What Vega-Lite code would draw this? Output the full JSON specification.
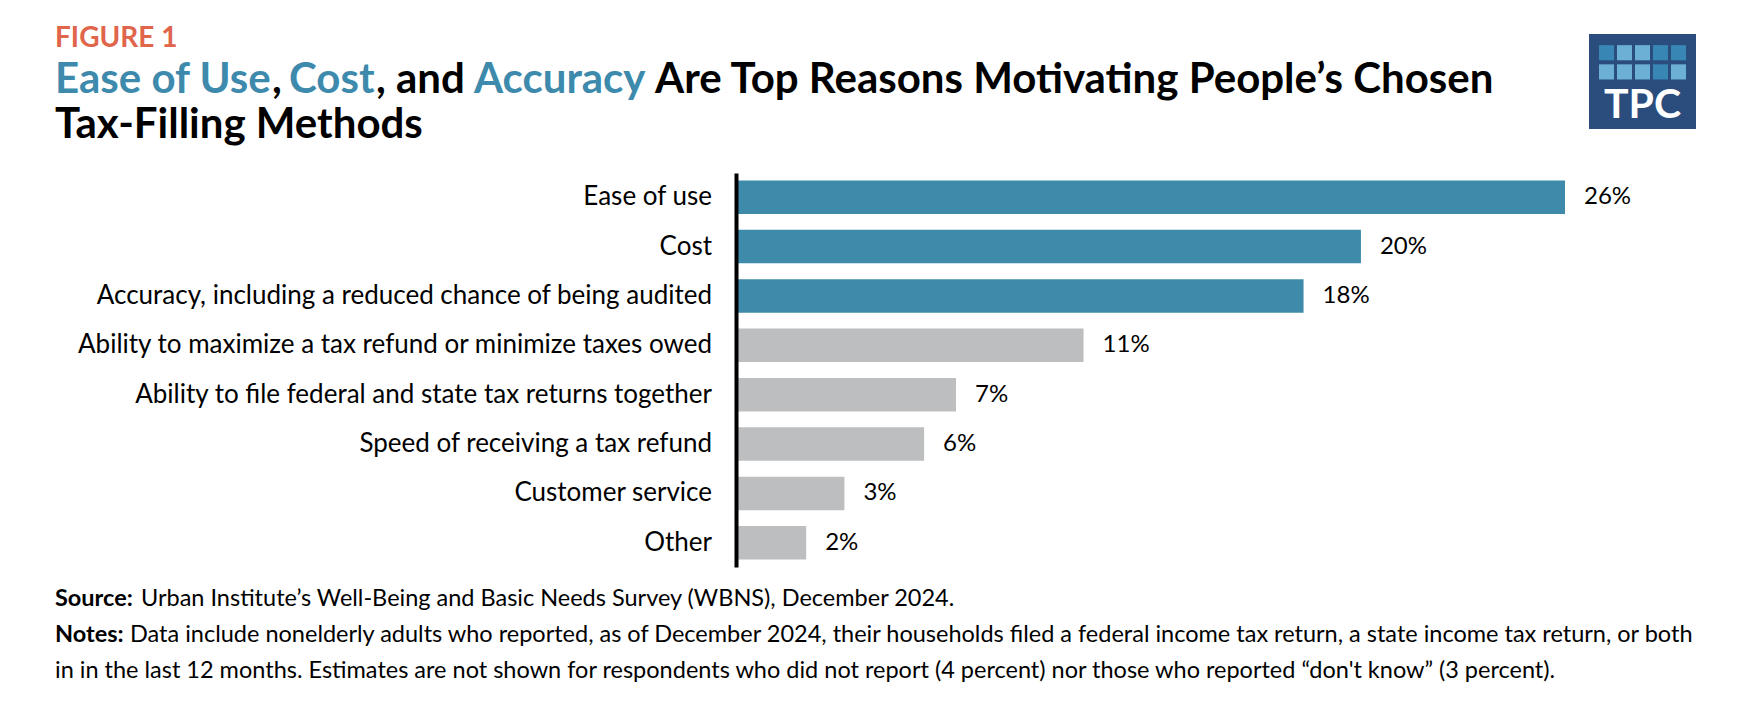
{
  "$schema": "https://vega.github.io/schema/vega-lite/v6.json",
  "background": "white",
  "padding": {"left": 55, "top": 25, "right": 10, "bottom": 5},
  "config": {"view": {"stroke": null}, "font": "Lato"},
  "columns": 3,
  "align": "each",
  "bounds": "flush",
  "spacing": {"row": 22, "column": 24},
  "resolve": {"scale": {"color": "independent"}},
  "datasets": {
    "reasons": [
      {"reason": "Ease of use", "share": 0.26, "group": "top"},
      {"reason": "Cost", "share": 0.196, "group": "top"},
      {"reason": "Accuracy, including a reduced chance of being audited", "share": 0.178, "group": "top"},
      {"reason": "Ability to maximize a tax refund or minimize taxes owed", "share": 0.109, "group": "rest"},
      {"reason": "Ability to file federal and state tax returns together", "share": 0.069, "group": "rest"},
      {"reason": "Speed of receiving a tax refund", "share": 0.059, "group": "rest"},
      {"reason": "Customer service", "share": 0.034, "group": "rest"},
      {"reason": "Other", "share": 0.022, "group": "rest"}
    ]
  },
  "concat": [
    {
      "width": 657,
      "height": 117,
      "data": {"values": [
        {"line": 0, "seg": "fig", "role": "figure", "text": "FIGURE 1"},
        {"line": 1, "seg": "s1", "role": "accent", "text": "Ease of Use"},
        {"line": 1, "seg": "s2", "role": "plain", "text": ","},
        {"line": 1, "seg": "s3", "role": "accent", "text": "Cost"},
        {"line": 1, "seg": "s4", "role": "plain", "text": ", and"},
        {"line": 1, "seg": "s5", "role": "accent", "text": "Accuracy"},
        {"line": 1, "seg": "s6", "role": "plain", "text": "Are Top Reasons Motivating People’s Chosen"},
        {"line": 2, "seg": "s1", "role": "plain", "text": "Tax-Filling Methods"}
      ]},
      "encoding": {
        "x": {"datum": 0, "type": "quantitative", "scale": {"domain": [0, 1]}, "axis": null},
        "y": {"field": "line", "type": "ordinal", "scale": {"type": "point", "padding": 0.286, "domain": [0, 1, 2]}, "axis": null},
        "color": {"field": "role", "type": "nominal", "scale": {"domain": ["figure", "accent", "plain"], "range": ["#E0654B", "#3D8AAD", "#000000"]}, "legend": null},
        "text": {"field": "text"}
      },
      "layer": [
        {"transform": [{"filter": "datum.seg == 'fig'"}], "mark": {"type": "text", "align": "left", "baseline": "alphabetic", "fontSize": 28, "fontWeight": "bold"}},
        {"transform": [{"filter": "datum.seg == 's1'"}], "mark": {"type": "text", "align": "left", "baseline": "alphabetic", "fontSize": 42, "fontWeight": "bold"}},
        {"transform": [{"filter": "datum.seg == 's2'"}], "mark": {"type": "text", "align": "left", "baseline": "alphabetic", "fontSize": 42, "fontWeight": "bold", "dx": 217}},
        {"transform": [{"filter": "datum.seg == 's3'"}], "mark": {"type": "text", "align": "left", "baseline": "alphabetic", "fontSize": 42, "fontWeight": "bold", "dx": 234}},
        {"transform": [{"filter": "datum.seg == 's4'"}], "mark": {"type": "text", "align": "left", "baseline": "alphabetic", "fontSize": 42, "fontWeight": "bold", "dx": 321}},
        {"transform": [{"filter": "datum.seg == 's5'"}], "mark": {"type": "text", "align": "left", "baseline": "alphabetic", "fontSize": 42, "fontWeight": "bold", "dx": 419}},
        {"transform": [{"filter": "datum.seg == 's6'"}], "mark": {"type": "text", "align": "left", "baseline": "alphabetic", "fontSize": 42, "fontWeight": "bold", "dx": 600}}
      ]
    },
    {
      "width": 1,
      "height": 1,
      "data": {"values": []},
      "mark": "text"
    },
    {
      "width": 107,
      "height": 95,
      "view": {"fill": "#2a4d7d", "stroke": null},
      "layer": [
        {
          "data": {"values": [
            {"col": 1, "row": 1, "shade": "dark"},
            {"col": 2, "row": 1, "shade": "light"},
            {"col": 3, "row": 1, "shade": "light"},
            {"col": 4, "row": 1, "shade": "dark"},
            {"col": 5, "row": 1, "shade": "dark"},
            {"col": 1, "row": 2, "shade": "light"},
            {"col": 2, "row": 2, "shade": "light"},
            {"col": 3, "row": 2, "shade": "light"},
            {"col": 4, "row": 2, "shade": "dark"},
            {"col": 5, "row": 2, "shade": "light"}
          ]},
          "mark": {"type": "rect"},
          "encoding": {
            "x": {"field": "col", "type": "ordinal", "scale": {"type": "band", "domain": [1, 2, 3, 4, 5], "paddingInner": 0.167, "paddingOuter": 0.556}, "axis": null},
            "y": {"field": "row", "type": "ordinal", "scale": {"type": "band", "domain": [1, 2, 3, 4], "paddingInner": 0.21, "paddingOuter": 0.58}, "axis": null},
            "color": {"field": "shade", "type": "nominal", "scale": {"domain": ["dark", "light"], "range": ["#3786b3", "#6cb0d6"]}, "legend": null}
          }
        },
        {
          "data": {"values": [{"col": 3, "row": 4, "text": "TPC"}]},
          "mark": {"type": "text", "color": "white", "fontSize": 41, "fontWeight": "bold", "align": "center", "baseline": "alphabetic"},
          "encoding": {
            "x": {"field": "col", "type": "ordinal", "scale": {"type": "band", "domain": [1, 2, 3, 4, 5], "paddingInner": 0.167, "paddingOuter": 0.556}, "axis": null},
            "y": {"field": "row", "type": "ordinal", "bandPosition": 1, "scale": {"type": "band", "domain": [1, 2, 3, 4], "paddingInner": 0.21, "paddingOuter": 0.58}, "axis": null},
            "text": {"field": "text"}
          }
        }
      ]
    },
    {
      "width": 657,
      "height": 394,
      "data": {"name": "reasons"},
      "mark": {"type": "text", "align": "right", "baseline": "middle", "fontSize": 26, "color": "#000000"},
      "encoding": {
        "y": {"field": "reason", "type": "nominal", "sort": null, "scale": {"type": "band", "paddingInner": 0.32, "paddingOuter": 0.15}, "axis": null},
        "x": {"datum": 1, "type": "quantitative", "scale": {"domain": [0, 1]}, "axis": null},
        "text": {"field": "reason"}
      }
    },
    {
      "width": 829,
      "height": 394,
      "data": {"name": "reasons"},
      "encoding": {
        "y": {"field": "reason", "type": "nominal", "sort": null, "scale": {"type": "band", "paddingInner": 0.32, "paddingOuter": 0.15},
              "axis": {"title": null, "labels": false, "ticks": false, "domain": true, "domainColor": "#000000", "domainWidth": 4, "grid": false, "zindex": 1}}
      },
      "layer": [
        {
          "mark": {"type": "bar"},
          "encoding": {
            "x": {"field": "share", "type": "quantitative", "scale": {"domain": [0, 0.26], "nice": false}, "axis": null},
            "color": {"field": "group", "type": "nominal", "scale": {"domain": ["top", "rest"], "range": ["#3d8aab", "#bdbec0"]}, "legend": null}
          }
        },
        {
          "mark": {"type": "text", "align": "left", "baseline": "middle", "dx": 19, "fontSize": 24, "color": "#000000"},
          "encoding": {
            "x": {"field": "share", "type": "quantitative"},
            "text": {"field": "share", "type": "quantitative", "format": ".0%"}
          }
        }
      ]
    },
    {
      "width": 1,
      "height": 1,
      "data": {"values": []},
      "mark": "text"
    },
    {
      "width": 657,
      "height": 106,
      "data": {"values": [
        {"line": 1, "part": "label", "text": "Source:"},
        {"line": 1, "part": "body", "text": "Urban Institute’s Well-Being and Basic Needs Survey (WBNS), December 2024."},
        {"line": 2, "part": "label", "text": "Notes:"},
        {"line": 2, "part": "body", "text": "Data include nonelderly adults who reported, as of December 2024, their households filed a federal income tax return, a state income tax return, or both"},
        {"line": 3, "part": "body", "text": "in in the last 12 months. Estimates are not shown for respondents who did not report (4 percent) nor those who reported “don't know” (3 percent)."}
      ]},
      "encoding": {
        "x": {"datum": 0, "type": "quantitative", "scale": {"domain": [0, 1]}, "axis": null},
        "y": {"field": "line", "type": "ordinal", "scale": {"type": "point", "padding": 0.472, "domain": [1, 2, 3]}, "axis": null},
        "text": {"field": "text"}
      },
      "layer": [
        {"transform": [{"filter": "datum.part == 'label'"}], "mark": {"type": "text", "align": "left", "baseline": "alphabetic", "fontSize": 23.5, "fontWeight": "bold", "color": "#000000"}},
        {"transform": [{"filter": "datum.part == 'body' && datum.line == 1"}], "mark": {"type": "text", "align": "left", "baseline": "alphabetic", "fontSize": 23.5, "dx": 86, "color": "#000000"}},
        {"transform": [{"filter": "datum.part == 'body' && datum.line == 2"}], "mark": {"type": "text", "align": "left", "baseline": "alphabetic", "fontSize": 23.5, "dx": 75, "color": "#000000"}},
        {"transform": [{"filter": "datum.part == 'body' && datum.line == 3"}], "mark": {"type": "text", "align": "left", "baseline": "alphabetic", "fontSize": 23.5, "color": "#000000"}}
      ]
    }
  ]
}
